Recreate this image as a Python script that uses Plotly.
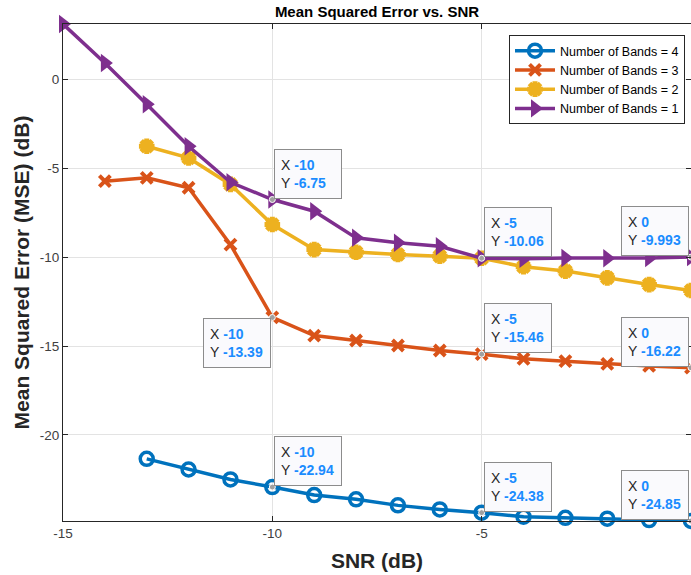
import plotly.graph_objects as go

# Number of Bands = 4 (starts at -13)
x4 = list(range(-13, 1))
y4 = [-21.35, -21.95, -22.51, -22.94, -23.39, -23.63, -23.97, -24.20, -24.38,
      -24.61, -24.67, -24.72, -24.80, -24.85]

# Number of Bands = 3 (starts at -14)
x3 = list(range(-14, 1))
y3 = [-5.72, -5.53, -6.09, -9.29, -13.39, -14.41, -14.69, -14.97, -15.25, -15.46,
      -15.72, -15.85, -16.00, -16.12, -16.22]

# Number of Bands = 2 (starts at -13)
x2 = list(range(-13, 1))
y2 = [-3.75, -4.41, -5.90, -8.16, -9.57, -9.72, -9.85, -9.94, -10.06,
      -10.54, -10.78, -11.16, -11.54, -11.87]

# Number of Bands = 1 (starts at -15)
x1 = list(range(-15, 1))
y1 = [3.13, 0.94, -1.39, -3.75, -5.78, -6.75, -7.41, -8.91, -9.19, -9.38, -10.06,
      -10.08, -10.04, -10.06, -10.05, -9.993]

# Data tips
tip_x = [-10, -10, -10, -5, -5, -5, 0, 0, 0]
tip_y = [-6.75, -13.39, -22.94, -10.06, -15.46, -24.38, -9.993, -16.22, -24.85]
tip_lbl_x = ["-10", "-10", "-10", "-5", "-5", "-5", "0", "0", "0"]
tip_lbl_y = ["-6.75", "-13.39", "-22.94", "-10.06", "-15.46", "-24.38", "-9.993", "-16.22", "-24.85"]
tip_anchor = ["bl", "tr", "bl", "bl", "bl", "bl", "br", "br", "br"]

x_ticks = [-15, -10, -5, 0]
y_ticks = [0, -5, -10, -15, -20]

FONT = "Liberation Sans, Arial, Helvetica, sans-serif"
C4, C3, C2, C1 = "#0072BD", "#D95319", "#EDB120", "#7E2F8E"

fig = go.Figure()
fig.add_trace(go.Scatter(x=x4, y=y4, mode="lines+markers", name="Number of Bands = 4",
                         line=dict(color=C4, width=3.5), cliponaxis=False,
                         marker=dict(symbol="circle-open", size=13, line=dict(width=3.5, color=C4))))
fig.add_trace(go.Scatter(x=x3, y=y3, mode="lines+markers", name="Number of Bands = 3",
                         line=dict(color=C3, width=3.5), cliponaxis=False,
                         marker=dict(symbol="x-thin-open", size=11, line=dict(width=4, color=C3))))
fig.add_trace(go.Scatter(x=x2, y=y2, mode="lines+markers", name="Number of Bands = 2",
                         line=dict(color=C2, width=3.5), cliponaxis=False,
                         marker=dict(symbol="asterisk-open", size=13, line=dict(width=5, color=C2))))
fig.add_trace(go.Scatter(x=x1, y=y1, mode="lines+markers", name="Number of Bands = 1",
                         line=dict(color=C1, width=3.5), cliponaxis=False,
                         marker=dict(symbol="triangle-right", size=16, color=C1)))
fig.add_trace(go.Scatter(x=tip_x, y=tip_y, mode="markers", showlegend=False, cliponaxis=False,
                         marker=dict(size=6, color="#a0a0a0", line=dict(width=1, color="white"))))

anchors = {
    "bl": dict(xanchor="left", yanchor="bottom", xshift=2, yshift=1),
    "tr": dict(xanchor="right", yanchor="top", xshift=-1, yshift=-1),
    "br": dict(xanchor="right", yanchor="bottom", xshift=-2, yshift=1),
}
BLUE = "#1a8cff"
for tx, ty, lx, ly, an in zip(tip_x, tip_y, tip_lbl_x, tip_lbl_y, tip_anchor):
    txt = (f"X <span style='color:{BLUE}'><b>{lx}</b></span><br>"
           f"Y <span style='color:{BLUE}'><b>{ly}</b></span>")
    fig.add_annotation(x=tx, y=ty, text=txt, showarrow=False, align="left",
                       width=54, height=36, borderpad=6, bgcolor="#fafafd",
                       bordercolor="#8c8c8c", borderwidth=1,
                       font=dict(family=FONT, size=14, color="#262626"), **anchors[an])

axis_common = dict(showline=True, linecolor="#262626", linewidth=1, mirror="ticks",
                   ticks="inside", ticklen=5, tickcolor="#262626", automargin=False,
                   showgrid=True, gridcolor="#e3e3e3", gridwidth=1, zeroline=False,
                   tickfont=dict(family=FONT, size=13.5, color="#404040"))

fig.update_layout(
    width=691, height=575,
    margin=dict(l=63, r=0, t=24, b=54, autoexpand=False),
    paper_bgcolor="white", plot_bgcolor="white",
    title=dict(text="<b>Mean Squared Error vs. SNR</b>", x=377/691, xref="container",
               xanchor="center", y=1 - 6/575, yref="container", yanchor="top",
               font=dict(family=FONT, size=15, color="black")),
    xaxis=dict(range=[-15, 0], tickvals=x_ticks, ticktext=[str(v) for v in x_ticks],
               title=dict(text="<b>SNR (dB)</b>", font=dict(family=FONT, size=21, color="#262626"),
                          standoff=13),
               **axis_common),
    yaxis=dict(range=[-24.85, 3.13], tickvals=y_ticks, ticktext=[str(v) for v in y_ticks],
               title=dict(text="<b>Mean Squared Error (MSE) (dB)</b>",
                          font=dict(family=FONT, size=21, color="#262626"), standoff=4),
               **axis_common),
    legend=dict(x=(509-63)/628, xanchor="left", y=1 - (35-24)/497, yanchor="top",
                bgcolor="white", bordercolor="#262626", borderwidth=1, itemwidth=40,
                font=dict(family=FONT, size=12.5, color="black"), tracegroupgap=0),
    showlegend=True,
)

fig.write_html("out.html", config={"displayModeBar": False},
               post_script="document.body.style.margin='0';")
